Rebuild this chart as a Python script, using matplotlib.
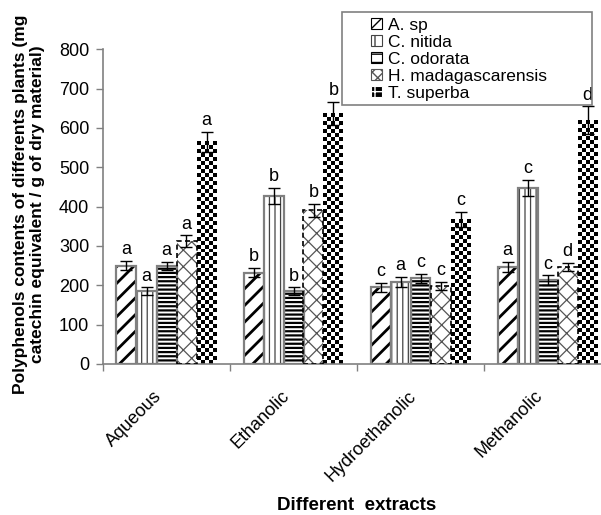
import numpy as np
import matplotlib
matplotlib.use("Agg")
import matplotlib.pyplot as plt
from matplotlib.patches import Patch, Rectangle
from matplotlib.transforms import ScaledTranslation

plt.rcParams['font.family'] = ['Liberation Sans', 'DejaVu Sans']

extracts = ["Aqueous", "Ethanolic", "Hydroethanolic", "Methanolic"]
species = ["A. sp", "C. nitida", "C. odorata", "H. madagascarensis", "T. superba"]

# polyphenol content (mg catechin equivalent / g dry material), per species across extracts
a_sp = [250, 232, 195, 247]
c_nitida = [185, 428, 209, 448]
c_odorata = [250, 185, 218, 213]
h_madag = [312, 391, 199, 247]
t_superba = [565, 637, 367, 620]

a_sp_err = [12, 12, 12, 13]
c_nitida_err = [10, 20, 12, 20]
c_odorata_err = [10, 10, 12, 12]
h_madag_err = [15, 17, 10, 10]
t_superba_err = [25, 30, 20, 35]

a_sp_sig = ["a", "b", "c", "a"]
c_nitida_sig = ["a", "b", "a", "c"]
c_odorata_sig = ["a", "b", "c", "c"]
h_madag_sig = ["a", "b", "c", "d"]
t_superba_sig = ["a", "b", "c", "d"]

values = [a_sp, c_nitida, c_odorata, h_madag, t_superba]
errors = [a_sp_err, c_nitida_err, c_odorata_err, h_madag_err, t_superba_err]
letters = [a_sp_sig, c_nitida_sig, c_odorata_sig, h_madag_sig, t_superba_sig]

W, H = 601, 515
fig = plt.figure(figsize=(W / 100, H / 100), dpi=100)
ax_left, ax_bottom, ax_w, ax_h = 103, 151, 508, 314.7
ax = fig.add_axes([ax_left / W, ax_bottom / H, ax_w / W, ax_h / H])

GRAY = "#808080"
bar_w = 20 / 127
n = len(species)
centers = np.arange(len(extracts)) + 0.5
px_per_unit_y = ax_h / 800.0

styles = [
    dict(hatch="//", hlw=2.0, hcolor="black"),
    dict(hatch="|||", hlw=0.9, hcolor="#444444"),
    dict(hatch="----", hlw=1.6, hcolor="black"),
    dict(hatch="xx", hlw=0.9, hcolor="#555555"),
    None,
]


def set_hlw(patch, lw):
    if hasattr(patch, "set_hatch_linewidth"):
        patch.set_hatch_linewidth(lw)


for i in range(n):
    xs = centers + (i - (n - 1) / 2) * bar_w
    st = styles[i]
    if st is not None:
        plt.rcParams['hatch.linewidth'] = st["hlw"]
        bars = ax.bar(xs, values[i], width=bar_w, color="white",
                      edgecolor=st["hcolor"], hatch=st["hatch"], linewidth=0, zorder=2)
        for b in bars:
            set_hlw(b, st["hlw"])
        if i == 3:
            ax.bar(xs, values[i], width=bar_w, fill=False, edgecolor="black",
                   linewidth=1.2, linestyle=(0, (3, 2)), zorder=3)
        else:
            ax.bar(xs, values[i], width=bar_w, fill=False, edgecolor=GRAY,
                   linewidth=1.6, zorder=3)
    else:
        bars = ax.bar(xs, values[i], width=bar_w, color="white", linewidth=0, zorder=2)
        for b in bars:
            x0, y0 = b.get_x(), b.get_y()
            bw, bh = b.get_width(), b.get_height()
            ny = max(1, int(round(bh * px_per_unit_y / 4.0)))
            nx = 5
            cb = (np.add.outer(np.arange(ny), np.arange(nx)) % 2).astype(float)
            ax.imshow(cb, cmap="gray", vmin=0, vmax=1, extent=(x0, x0 + bw, y0, y0 + bh),
                      aspect="auto", interpolation="nearest", zorder=2.5)
    ax.errorbar(xs, values[i], yerr=errors[i], fmt="none", ecolor="black",
                elinewidth=1.0, capsize=4, capthick=1.0, zorder=5)
    for x, v, e, s in zip(xs, values[i], errors[i], letters[i]):
        ax.annotate(s, (x, v + e), xytext=(0, 2), textcoords="offset points",
                    ha="center", va="bottom", fontsize=13, zorder=6)

ax.set_xlim(0, len(extracts))
ax.set_ylim(0, 800)
ax.set_yticks(np.arange(0, 801, 100))
ax.set_xticks(np.arange(0, len(extracts) + 1))
ax.set_xticklabels([])
ax.set_xticks(centers, minor=True)
ax.set_xticklabels(extracts, minor=True, rotation=45, ha="right",
                   rotation_mode="anchor", fontsize=13)
ax.tick_params(axis="x", which="minor", length=0, pad=17)
ax.tick_params(axis="both", which="major", direction="out", length=5, width=1,
               color=GRAY, labelsize=13)
ax.tick_params(axis="y", pad=5)
offset = ScaledTranslation(-13 / 100, 0, fig.dpi_scale_trans)
for lab in ax.get_xticklabels(minor=True):
    lab.set_transform(lab.get_transform() + offset)

for side in ["top", "right"]:
    ax.spines[side].set_visible(False)
for side in ["left", "bottom"]:
    ax.spines[side].set_color(GRAY)
    ax.spines[side].set_linewidth(1.2)

fig.text(29 / W, 1 - 204 / H,
         "Polyphenols contents of differents plants (mg\ncatechin equivalent / g of dry material)",
         rotation=90, ha="center", va="center", multialignment="center",
         fontsize=12.5, fontweight="bold", linespacing=1.2)
fig.text(357 / W, 1 - 506 / H, "Different  extracts", ha="center", va="center",
         fontsize=13.5, fontweight="bold")

# legend box and entries
fig.patches.append(Rectangle((342 / W, 1 - 105 / H), 250 / W, 93 / H,
                             transform=fig.transFigure, fill=False,
                             edgecolor=GRAY, linewidth=1.2))
handles = [
    Patch(facecolor="white", edgecolor="black", hatch="/"),
    Patch(facecolor="white", edgecolor="#444444", hatch="|"),
    Patch(facecolor="white", edgecolor="black", hatch="--"),
    Patch(facecolor="white", edgecolor="#555555", hatch="xxx"),
    Patch(facecolor="black", edgecolor="white", hatch="+"),
]
plt.rcParams['hatch.linewidth'] = 1.0
leg = fig.legend(handles, species, loc="upper left",
                 bbox_to_anchor=(370 / W, 1 - 17 / H), frameon=False,
                 fontsize=12.5, handlelength=0.62, handleheight=0.62,
                 handletextpad=0.35, labelspacing=0.11, borderpad=0.05,
                 borderaxespad=0)
for h in leg.legend_handles:
    h.set_linewidth(0.8)

fig.savefig("out.png", dpi=100)
